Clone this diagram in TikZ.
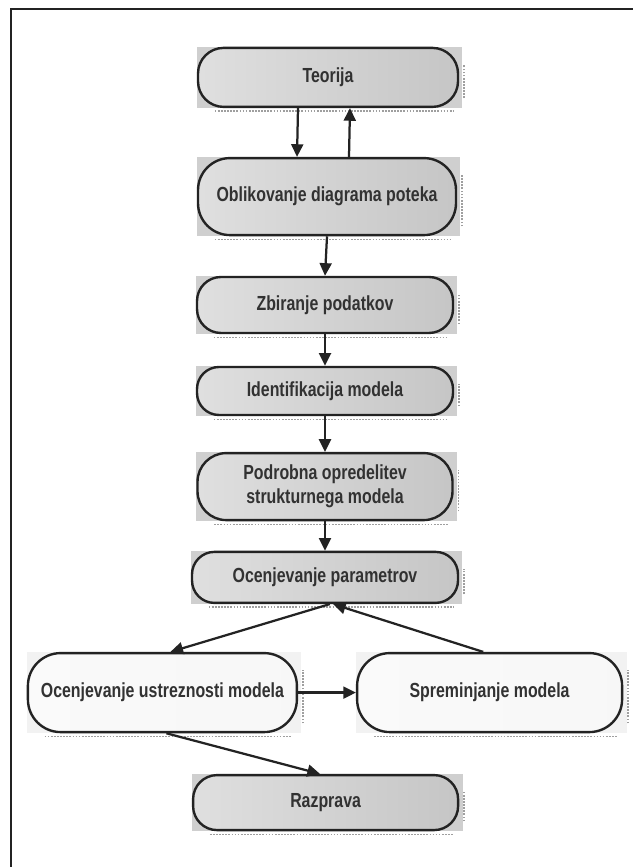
\documentclass[tikz,border=0pt]{standalone}
\usepackage{fontspec}
\setmainfont{Liberation Sans}[FakeStretch=0.78]
\usepackage{tikz}
\usetikzlibrary{arrows.meta, backgrounds}
\usepackage{xcolor}
\definecolor{borde}{RGB}{35, 35, 35}
\definecolor{texto}{RGB}{50, 50, 50}

\begin{document}
\begin{tikzpicture}[
    font=\bfseries\fontsize{14.5}{17}\selectfont,
    paso/.style={draw=borde, line width=1.7pt, rounded corners=0.6cm, text=texto,
      align=center, inner sep=2pt, left color=gray!25, middle color=gray!10, right color=gray!45},
    pasoblanco/.style={paso, left color=gray!4, middle color=white, right color=gray!6},
    flecha/.style={draw=borde, line width=1.6pt, -{Triangle[length=9pt, width=8.5pt]}}
  ]

      \useasboundingbox (0,0) rectangle (15.825,21.675);

      % 1. Marco (solo arriba e izquierda)
      \draw[line width=1.5pt, borde] (0.275,0) -- (0.275,21.45) -- (15.825,21.45);

      % 2. PASOS
      \node[paso, rounded corners=0.64cm, minimum width=6.5cm, minimum height=1.475cm] (teo) at (8.2, 19.74) {Teorija};
      \node[paso, rounded corners=0.8cm, minimum width=6.45cm, minimum height=1.925cm] (obl) at (8.175, 16.76) {Oblikovanje diagrama poteka};
      \node[paso, minimum width=6.4cm, minimum height=1.4cm] (zbi) at (8.125, 14.05) {Zbiranje podatkov};
      \node[paso, rounded corners=0.55cm, minimum width=6.4cm, minimum height=1.2cm] (ide) at (8.125, 11.9) {Identifikacija modela};
      \node[paso, rounded corners=0.72cm, minimum width=6.375cm, minimum height=1.675cm] (pod) at (8.125, 9.51) {Podrobna opredelitev\\ strukturnega modela};
      \node[paso, rounded corners=0.56cm, minimum width=6.65cm, minimum height=1.275cm] (par) at (8.125, 7.24) {Ocenjevanje parametrov};

      % Abajo: dos cajas blancas
      \node[pasoblanco, rounded corners=0.82cm, minimum width=6.725cm, minimum height=1.975cm] (ust) at (4.06, 4.36) {Ocenjevanje ustreznosti modela};
      \node[pasoblanco, rounded corners=0.82cm, minimum width=6.625cm, minimum height=1.975cm] (spr) at (12.24, 4.36) {Spreminjanje modela};

      \node[paso, minimum width=6.625cm, minimum height=1.375cm] (raz) at (8.14, 1.61) {Razprava};

      % 3. Sombras (rectángulo gris detrás y borde punteado)
      \begin{scope}[on background layer]
        \foreach \n/\c in {teo/gray!38, obl/gray!38, zbi/gray!38, ide/gray!38, pod/gray!38,
                           par/gray!38, ust/gray!10, spr/gray!10, raz/gray!38} {
          \fill[\c] (\n.south west) rectangle ([xshift=0.08cm]\n.north east);
          \draw[gray!75, densely dotted, line width=1.2pt]
            ([xshift=0.45cm, yshift=-0.08cm]\n.south west) -- ([xshift=-0.15cm, yshift=-0.08cm]\n.south east);
          \draw[gray!75, densely dotted, line width=1.2pt]
            ([xshift=0.12cm, yshift=0.25cm]\n.south east) -- ([xshift=0.12cm, yshift=-0.45cm]\n.north east);
        }
      \end{scope}

      % 4. FLECHAS
      \draw[flecha] ([xshift=-0.75cm]teo.south) -- ([xshift=-0.75cm]obl.north);
      \draw[flecha] ([xshift=0.55cm]obl.north) -- ([xshift=0.55cm]teo.south);
      \draw[flecha] (obl.south) -- (zbi.north);
      \draw[flecha] (zbi.south) -- (ide.north);
      \draw[flecha] (ide.south) -- (pod.north);
      \draw[flecha] (pod.south) -- (par.north);
      \draw[flecha] ([xshift=0.12cm]par.south) -- ([xshift=0.2cm]ust.north);
      \draw[flecha] ([xshift=-0.16cm]spr.north) -- ([xshift=0.2cm]par.south);
      \draw[flecha] (ust.east) -- (spr.west);
      \draw[flecha] ([xshift=0.1cm]ust.south) -- ([xshift=-0.14cm]raz.north);

    \end{tikzpicture}
\end{document}
